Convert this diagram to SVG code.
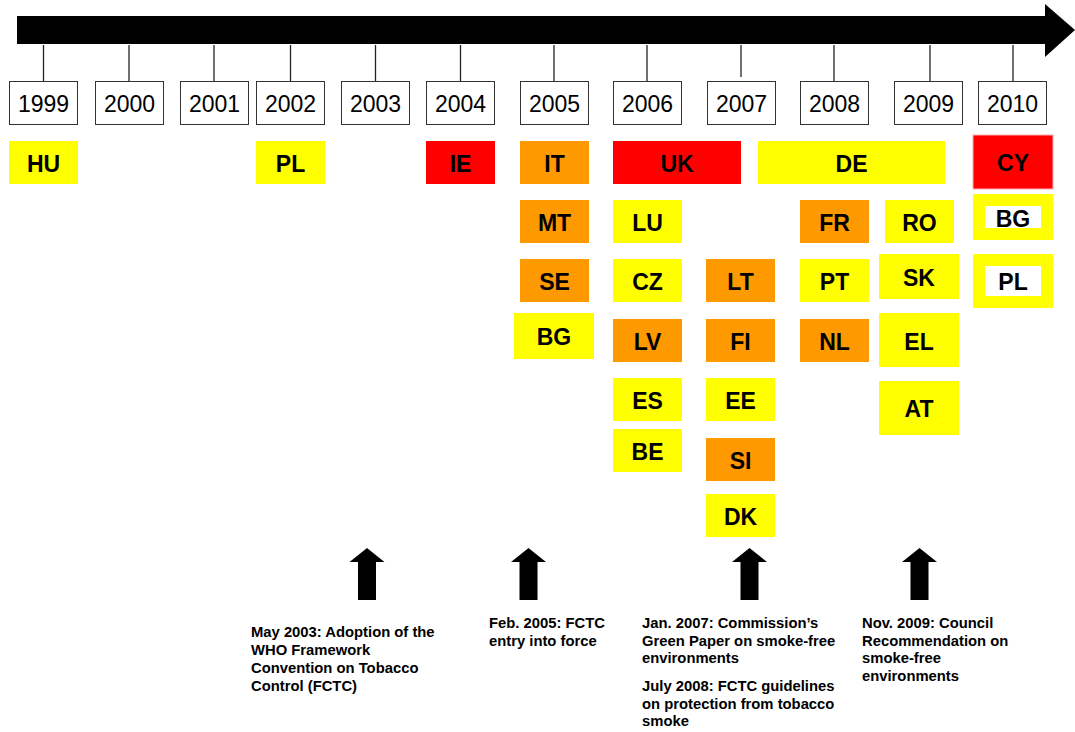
<svg xmlns="http://www.w3.org/2000/svg" width="1075" height="732" viewBox="0 0 1075 732">
<style>
.yr{fill:#fff;stroke:#333;stroke-width:1}
.yt{font-family:"Liberation Sans",Arial,sans-serif;font-size:23px;fill:#000;text-anchor:middle}
.cl{font-family:"Liberation Sans",Arial,sans-serif;font-size:23px;font-weight:bold;fill:#000;text-anchor:middle}
.y{fill:#FFFF00}
.o{fill:#FF9900}
.r{fill:#FF0000}
.w{fill:#fff}
.tick{stroke:#222;stroke-width:1.3}
.note{font-family:"Liberation Sans",Arial,sans-serif;font-size:14.8px;font-weight:bold;fill:#000}
</style>
<rect width="1075" height="732" fill="#fff"/>
<g id="timeline">
<rect x="17" y="16" width="1029" height="28" fill="#000"/>
<polygon points="1045,4 1075,30 1045,57" fill="#000"/>
</g>
<g id="connectors">
<line class="tick" x1="43.5" y1="45" x2="43.5" y2="81"/>
<line class="tick" x1="129" y1="45" x2="129" y2="81"/>
<line class="tick" x1="214" y1="45" x2="214" y2="81"/>
<line class="tick" x1="290.5" y1="45" x2="290.5" y2="81"/>
<line class="tick" x1="375.5" y1="45" x2="375.5" y2="81"/>
<line class="tick" x1="460.5" y1="45" x2="460.5" y2="81"/>
<line class="tick" x1="554" y1="45" x2="554" y2="81"/>
<line class="tick" x1="647" y1="45" x2="647" y2="81"/>
<line class="tick" x1="741" y1="45" x2="741" y2="77"/>
<line class="tick" x1="834" y1="45" x2="834" y2="81"/>
<line class="tick" x1="930" y1="45" x2="930" y2="81"/>
<line class="tick" x1="1013" y1="45" x2="1013" y2="81"/>
</g>
<g id="years">
<g id="y1999"><rect class="yr" x="9.5" y="81.5" width="68" height="43"/><text class="yt" x="43.5" y="112">1999</text></g>
<g id="y2000"><rect class="yr" x="95.5" y="81.5" width="68" height="43"/><text class="yt" x="129.5" y="112">2000</text></g>
<g id="y2001"><rect class="yr" x="180.5" y="81.5" width="68" height="43"/><text class="yt" x="214.5" y="112">2001</text></g>
<g id="y2002"><rect class="yr" x="256.5" y="81.5" width="68" height="43"/><text class="yt" x="290.5" y="112">2002</text></g>
<g id="y2003"><rect class="yr" x="341.5" y="81.5" width="68" height="43"/><text class="yt" x="375.5" y="112">2003</text></g>
<g id="y2004"><rect class="yr" x="426.5" y="81.5" width="68" height="43"/><text class="yt" x="460.5" y="112">2004</text></g>
<g id="y2005"><rect class="yr" x="520.5" y="81.5" width="68" height="43"/><text class="yt" x="554.5" y="112">2005</text></g>
<g id="y2006"><rect class="yr" x="613.5" y="81.5" width="68" height="43"/><text class="yt" x="647.5" y="112">2006</text></g>
<g id="y2007"><rect class="yr" x="707.5" y="81.5" width="68" height="43"/><text class="yt" x="741.5" y="112">2007</text></g>
<g id="y2008"><rect class="yr" x="800.5" y="81.5" width="68" height="43"/><text class="yt" x="834.5" y="112">2008</text></g>
<g id="y2009"><rect class="yr" x="894.5" y="81.5" width="68" height="43"/><text class="yt" x="928.5" y="112">2009</text></g>
<g id="y2010"><rect class="yr" x="978.5" y="81.5" width="68" height="43"/><text class="yt" x="1012.5" y="112">2010</text></g>
</g>
<g id="countries">
<g id="HU"><rect class="y" x="9" y="141" width="69" height="43"/><text class="cl" x="43.5" y="171.5">HU</text></g>
<g id="PL"><rect class="y" x="256" y="141" width="69" height="43"/><text class="cl" x="290.5" y="171.5">PL</text></g>
<g id="IE"><rect class="r" x="426" y="141" width="69" height="43"/><text class="cl" x="460.5" y="171.5">IE</text></g>
<g id="IT"><rect class="o" x="520" y="141" width="69" height="43"/><text class="cl" x="554.5" y="171.5">IT</text></g>
<g id="UK"><rect class="r" x="613" y="141" width="128" height="43"/><text class="cl" x="677" y="171.5">UK</text></g>
<g id="DE"><rect class="y" x="758" y="141" width="187" height="43"/><text class="cl" x="851.5" y="171.5">DE</text></g>
<g id="CY"><rect class="r" x="973" y="135" width="80" height="54" stroke="#FFB0B0" stroke-width="1"/><text class="cl" x="1013" y="171">CY</text></g>
<g id="MT"><rect class="o" x="520" y="200" width="69" height="43"/><text class="cl" x="554.5" y="230.5">MT</text></g>
<g id="SE"><rect class="o" x="520" y="259" width="69" height="43"/><text class="cl" x="554.5" y="289.5">SE</text></g>
<g id="BG"><rect class="y" x="514" y="313" width="80" height="46"/><text class="cl" x="554" y="345">BG</text></g>
<g id="LU"><rect class="y" x="613" y="200" width="69" height="43"/><text class="cl" x="647.5" y="230.5">LU</text></g>
<g id="CZ"><rect class="y" x="613" y="259" width="69" height="43"/><text class="cl" x="647.5" y="289.5">CZ</text></g>
<g id="LV"><rect class="o" x="613" y="319" width="69" height="43"/><text class="cl" x="647.5" y="349.5">LV</text></g>
<g id="ES"><rect class="y" x="613" y="378" width="69" height="43"/><text class="cl" x="647.5" y="408.5">ES</text></g>
<g id="BE"><rect class="y" x="613" y="429" width="69" height="43"/><text class="cl" x="647.5" y="459.5">BE</text></g>
<g id="LT"><rect class="o" x="706" y="259" width="69" height="43"/><text class="cl" x="740.5" y="289.5">LT</text></g>
<g id="FI"><rect class="o" x="706" y="319" width="69" height="43"/><text class="cl" x="740.5" y="349.5">FI</text></g>
<g id="EE"><rect class="y" x="706" y="378" width="69" height="43"/><text class="cl" x="740.5" y="408.5">EE</text></g>
<g id="SI"><rect class="o" x="706" y="438" width="69" height="43"/><text class="cl" x="740.5" y="468.5">SI</text></g>
<g id="DK"><rect class="y" x="706" y="494" width="69" height="43"/><text class="cl" x="740.5" y="524.5">DK</text></g>
<g id="FR"><rect class="o" x="800" y="200" width="69" height="43"/><text class="cl" x="834.5" y="230.5">FR</text></g>
<g id="PT"><rect class="y" x="800" y="259" width="69" height="43"/><text class="cl" x="834.5" y="289.5">PT</text></g>
<g id="NL"><rect class="o" x="800" y="319" width="69" height="43"/><text class="cl" x="834.5" y="349.5">NL</text></g>
<g id="RO"><rect class="y" x="885" y="200" width="69" height="43"/><text class="cl" x="919.5" y="230.5">RO</text></g>
<g id="SK"><rect class="y" x="879" y="254" width="80" height="45"/><text class="cl" x="919" y="286">SK</text></g>
<g id="EL"><rect class="y" x="879" y="313" width="80" height="54"/><text class="cl" x="919" y="350">EL</text></g>
<g id="AT"><rect class="y" x="879" y="381" width="80" height="54"/><text class="cl" x="919" y="417">AT</text></g>
<g id="BG2010"><rect class="y" x="973" y="194" width="80" height="46"/><rect class="w" x="985" y="206" width="56" height="22"/><text class="cl" x="1013" y="226.5">BG</text></g>
<g id="PL2010"><rect class="y" x="973" y="254" width="80" height="54"/><rect class="w" x="985" y="266" width="56" height="30"/><text class="cl" x="1013" y="290">PL</text></g>
</g>
<defs>
<polygon id="up" points="0,0 17.5,14 9,14 9,52 -9,52 -9,14 -17.5,14"/>
</defs>
<g id="events">
<g id="ev2003"><use href="#up" x="367" y="548"/><text class="note" x="251" y="637"><tspan x="251">May 2003: Adoption of the</tspan><tspan x="251" dy="18">WHO Framework</tspan><tspan x="251" dy="18">Convention on Tobacco</tspan><tspan x="251" dy="18">Control (FCTC)</tspan></text></g>
<g id="ev2005"><use href="#up" x="528.5" y="548"/><text class="note" x="489" y="628"><tspan x="489">Feb. 2005: FCTC</tspan><tspan x="489" dy="18">entry into force</tspan></text></g>
<g id="ev2007"><use href="#up" x="749.5" y="548"/><text class="note" x="642" y="628"><tspan x="642">Jan. 2007: Commission’s</tspan><tspan x="642" dy="17.5">Green Paper on smoke-free</tspan><tspan x="642" dy="17.5">environments</tspan></text><text class="note" x="642" y="691"><tspan x="642">July 2008: FCTC guidelines</tspan><tspan x="642" dy="17.7">on protection from tobacco</tspan><tspan x="642" dy="17.7">smoke</tspan></text></g>
<g id="ev2009"><use href="#up" x="919.5" y="548"/><text class="note" x="862" y="628"><tspan x="862">Nov. 2009: Council</tspan><tspan x="862" dy="17.5">Recommendation on</tspan><tspan x="862" dy="17.5">smoke-free</tspan><tspan x="862" dy="17.5">environments</tspan></text></g>
</g>
</svg>
